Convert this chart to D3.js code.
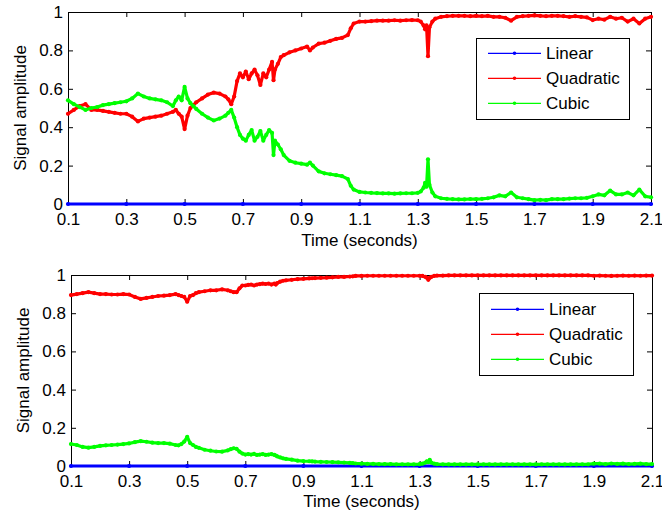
<!DOCTYPE html>
<html><head><meta charset="utf-8">
<script src="https://cdn.jsdelivr.net/npm/d3@7"></script>
<style>body{margin:0;background:#fff}svg{display:block}</style>
</head><body><svg id="c" width="662" height="514"></svg>
<script>
// ---------- data ----------
const time = [
0.10,0.12,0.14,0.16,0.18,0.20,0.22,0.24,0.26,0.28,
0.30,0.32,0.34,0.36,0.38,0.40,0.42,0.44,0.46,0.47,
0.48,0.49,0.50,0.51,0.52,0.53,0.54,0.56,0.58,0.60,
0.62,0.64,0.65,0.66,0.67,0.68,0.69,0.70,0.71,0.72,
0.73,0.74,0.75,0.76,0.77,0.78,0.79,0.80,0.805,0.81,
0.82,0.83,0.84,0.86,0.88,0.90,0.92,0.93,0.94,0.96,
0.98,1.00,1.02,1.04,1.06,1.07,1.08,1.10,1.12,1.14,
1.16,1.18,1.20,1.22,1.24,1.26,1.28,1.30,1.31,1.32,
1.325,1.33,1.335,1.34,1.35,1.36,1.38,1.40,1.42,1.44,
1.46,1.48,1.50,1.52,1.54,1.56,1.58,1.60,1.62,1.64,
1.66,1.68,1.70,1.72,1.74,1.76,1.78,1.80,1.82,1.84,
1.86,1.88,1.90,1.92,1.94,1.96,1.98,2.00,2.02,2.04,
2.06,2.08,2.10];

const linearTime = [0.1,0.3,0.5,0.7,0.9,1.1,1.3,1.5,1.7,1.9,2.1];
const linearTop    = [0,0,0,0,0,0,0,0,0,0,0];
const linearBottom = [0,0,0,0,0,0,0,0,0,0,0];

const quadraticTop = [
0.47,0.49,0.51,0.52,0.49,0.49,0.485,0.48,0.475,0.47,
0.47,0.455,0.43,0.445,0.45,0.455,0.46,0.47,0.48,0.49,
0.47,0.455,0.39,0.46,0.50,0.515,0.53,0.55,0.57,0.58,
0.575,0.56,0.545,0.52,0.56,0.64,0.68,0.66,0.69,0.65,
0.68,0.70,0.67,0.62,0.68,0.66,0.70,0.74,0.645,0.70,
0.73,0.765,0.775,0.79,0.80,0.81,0.82,0.80,0.815,0.835,
0.84,0.85,0.86,0.865,0.88,0.915,0.94,0.95,0.95,0.952,
0.955,0.955,0.955,0.957,0.955,0.957,0.958,0.957,0.95,0.93,
0.91,0.93,0.77,0.92,0.95,0.965,0.975,0.978,0.98,0.98,
0.98,0.978,0.98,0.978,0.98,0.975,0.975,0.97,0.955,0.975,
0.978,0.98,0.982,0.98,0.978,0.98,0.98,0.978,0.975,0.978,
0.975,0.972,0.958,0.965,0.96,0.975,0.965,0.97,0.95,0.965,
0.94,0.965,0.975];

const cubicTop = [
0.54,0.52,0.505,0.49,0.50,0.505,0.515,0.52,0.525,0.53,
0.535,0.55,0.575,0.56,0.55,0.545,0.54,0.53,0.51,0.54,
0.56,0.54,0.61,0.55,0.525,0.51,0.495,0.47,0.45,0.435,
0.445,0.46,0.475,0.49,0.45,0.40,0.36,0.34,0.33,0.36,
0.385,0.33,0.35,0.38,0.33,0.36,0.385,0.37,0.255,0.33,
0.31,0.285,0.255,0.225,0.215,0.21,0.205,0.215,0.20,0.17,
0.16,0.155,0.15,0.145,0.13,0.095,0.075,0.063,0.06,0.058,
0.057,0.055,0.055,0.054,0.055,0.056,0.056,0.058,0.065,0.085,
0.11,0.09,0.233,0.10,0.06,0.04,0.03,0.027,0.025,0.024,
0.024,0.026,0.025,0.027,0.03,0.035,0.045,0.04,0.06,0.035,
0.03,0.025,0.02,0.022,0.02,0.025,0.025,0.025,0.028,0.03,
0.03,0.032,0.04,0.05,0.045,0.07,0.05,0.05,0.06,0.045,
0.075,0.04,0.035];

const quadraticBottom = [
0.895,0.90,0.905,0.91,0.905,0.90,0.90,0.898,0.898,0.90,
0.898,0.885,0.875,0.88,0.885,0.89,0.892,0.895,0.90,0.895,
0.89,0.885,0.86,0.89,0.895,0.905,0.91,0.915,0.92,0.92,
0.925,0.92,0.915,0.91,0.91,0.93,0.945,0.945,0.948,0.95,
0.945,0.95,0.952,0.955,0.953,0.955,0.95,0.955,0.95,0.958,
0.965,0.97,0.972,0.975,0.978,0.98,0.982,0.983,0.984,0.985,
0.986,0.988,0.99,0.99,0.992,0.993,0.995,0.995,0.996,0.996,
0.996,0.996,0.996,0.996,0.996,0.996,0.996,0.996,0.995,0.99,
0.985,0.975,0.985,0.99,0.995,0.997,0.997,0.998,0.998,0.998,
0.998,0.998,0.998,0.998,0.998,0.998,0.998,0.998,0.998,0.998,
0.998,0.998,0.998,0.998,0.998,0.998,0.998,0.998,0.998,0.998,
0.998,0.998,0.996,0.997,0.996,0.995,0.996,0.997,0.996,0.997,
0.996,0.997,0.997];

const cubicBottom = [
0.115,0.11,0.10,0.096,0.10,0.105,0.108,0.11,0.112,0.115,
0.118,0.125,0.13,0.127,0.122,0.12,0.12,0.117,0.11,0.108,
0.115,0.128,0.153,0.12,0.11,0.10,0.095,0.085,0.08,0.076,
0.075,0.082,0.088,0.093,0.09,0.075,0.065,0.06,0.062,0.06,
0.063,0.058,0.06,0.062,0.058,0.06,0.062,0.058,0.055,0.05,
0.045,0.04,0.037,0.033,0.028,0.026,0.025,0.024,0.023,0.022,
0.021,0.02,0.019,0.018,0.016,0.015,0.013,0.012,0.011,0.011,
0.01,0.01,0.01,0.009,0.009,0.009,0.009,0.01,0.012,0.018,
0.025,0.02,0.032,0.018,0.012,0.01,0.009,0.008,0.008,0.008,
0.008,0.008,0.008,0.008,0.008,0.008,0.008,0.008,0.008,0.008,
0.008,0.008,0.008,0.008,0.008,0.008,0.008,0.008,0.008,0.008,
0.009,0.009,0.012,0.012,0.01,0.013,0.011,0.012,0.01,0.011,
0.012,0.01,0.01];

const xTicks = [0.1,0.3,0.5,0.7,0.9,1.1,1.3,1.5,1.7,1.9,2.1];
const yTicks = [0,0.2,0.4,0.6,0.8,1];
const seriesNames = ["Linear","Quadratic","Cubic"];
const seriesColors = ["#0000ff","#ff0000","#00ff00"];
const xLabel = "Time (seconds)";
const yLabel = "Signal amplitude";

// ---------- drawing ----------
const FONT = "'Liberation Sans', Arial, Helvetica, sans-serif";
const svg = d3.select("#c");

function styleAxis(sel){
  sel.selectAll("path.domain").attr("stroke","#000");
  sel.selectAll(".tick line").attr("stroke","#000");
  sel.selectAll("text").attr("font-size",17).attr("font-family",FONT).attr("fill","#000");
  sel.attr("font-size",17).attr("font-family",FONT);
}

function panel(p){
  const x = d3.scaleLinear().domain([0.1,2.1]).range([p.left,p.right]);
  const y = d3.scaleLinear().domain([0,1]).range([p.bottom,p.top]);
  const g = svg.append("g");
  const fmt = d => String(d);

  g.append("g").attr("transform",`translate(0,${p.bottom})`)
    .call(d3.axisBottom(x).tickValues(xTicks).tickSize(-5).tickSizeOuter(0).tickPadding(9).tickFormat(fmt))
    .call(styleAxis);
  g.append("g").attr("transform",`translate(0,${p.top})`)
    .call(d3.axisTop(x).tickValues(xTicks).tickSize(-5).tickSizeOuter(0).tickFormat(""))
    .call(styleAxis);
  g.append("g").attr("transform",`translate(${p.left},0)`)
    .call(d3.axisLeft(y).tickValues(yTicks).tickSize(-5).tickSizeOuter(0).tickPadding(5).tickFormat(fmt))
    .call(styleAxis);
  g.append("g").attr("transform",`translate(${p.right},0)`)
    .call(d3.axisRight(y).tickValues(yTicks).tickSize(-5).tickSizeOuter(0).tickFormat(""))
    .call(styleAxis);

  g.append("text").attr("transform",`translate(${p.yLabelX},${(p.top+p.bottom)/2}) rotate(-90)`)
    .attr("text-anchor","middle").attr("font-family",FONT).attr("font-size",17).text(yLabel);
  g.append("text").attr("x",(p.left+p.right)/2).attr("y",p.xLabelY)
    .attr("text-anchor","middle").attr("font-family",FONT).attr("font-size",17).text(xLabel);

  const line = d3.line().x(d=>x(d[0])).y(d=>y(d[1]));
  p.series.forEach((s,i)=>{
    const pts = s.t.map((t,j)=>[t,s.v[j]]);
    g.append("path").attr("d",line(pts)).attr("fill","none")
      .attr("stroke",seriesColors[i]).attr("stroke-width",3.2)
      .attr("stroke-linejoin","round").attr("stroke-linecap","round");
    g.append("g").selectAll("circle").data(pts).join("circle")
      .attr("cx",d=>x(d[0])).attr("cy",d=>y(d[1])).attr("r",2.1).attr("fill",seriesColors[i]);
  });

  // legend
  const L = p.legend;
  const lg = g.append("g");
  lg.append("rect").attr("x",L.x+0.5).attr("y",L.y+0.5).attr("width",L.w).attr("height",L.h)
    .attr("fill","#fff").attr("stroke","#000").attr("stroke-width",1);
  seriesNames.forEach((n,i)=>{
    const yy = L.row0 + i*L.step;
    lg.append("line").attr("x1",L.lx1).attr("x2",L.lx2).attr("y1",yy).attr("y2",yy)
      .attr("stroke",seriesColors[i]).attr("stroke-width",1.2);
    lg.append("circle").attr("cx",(L.lx1+L.lx2)/2).attr("cy",yy).attr("r",1.8).attr("fill",seriesColors[i]);
    lg.append("text").attr("x",L.tx).attr("y",yy).attr("dy","0.36em")
      .attr("font-family",FONT).attr("font-size",17).attr("fill","#000").text(n);
  });
}

panel({left:68,right:651,top:12,bottom:204,yLabelX:25.5,xLabelY:245.5,
  series:[{t:linearTime,v:linearTop},{t:time,v:quadraticTop},{t:time,v:cubicTop}],
  legend:{x:476,y:38,w:153,h:81,row0:53.3,step:25,lx1:488,lx2:541,tx:546}});
panel({left:71,right:652,top:275,bottom:466,yLabelX:29,xLabelY:507.2,
  series:[{t:linearTime,v:linearBottom},{t:time,v:quadraticBottom},{t:time,v:cubicBottom}],
  legend:{x:479,y:293,w:154,h:82,row0:309.3,step:25,lx1:491,lx2:544,tx:549}});
</script>
</body></html>
